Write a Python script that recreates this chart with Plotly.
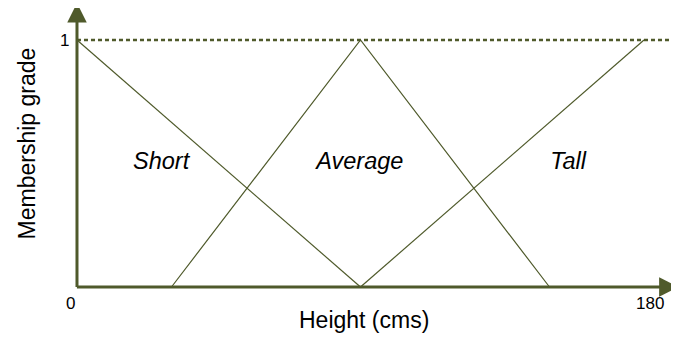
import plotly.graph_objects as go

# membership functions (height in cms -> membership grade)
short_x = [0, 90]
short_y = [1, 0]
avg_x = [30, 90, 150]
avg_y = [0, 1, 0]
tall_x = [90, 180]
tall_y = [0, 1]

set_names = ["Short", "Average", "Tall"]
set_label_x = [26.7, 89.8, 155.9]
set_label_y = [0.5, 0.5, 0.5]

tick_text = ["0", "180", "1"]

olive = "#4F5A2B"
sans = "Liberation Sans, Arial"

fig = go.Figure()

# dashed line at grade 1
fig.add_trace(go.Scatter(
    x=[0, 191.5], y=[1, 1], mode="lines",
    line=dict(color=olive, width=2.5, dash="4px,3px"),
    hoverinfo="skip"
))

for xs, ys in [(short_x, short_y), (avg_x, avg_y), (tall_x, tall_y)]:
    fig.add_trace(go.Scatter(
        x=xs, y=ys, mode="lines",
        line=dict(color=olive, width=1.2),
        hoverinfo="skip"
    ))

fig.add_trace(go.Scatter(
    x=set_label_x, y=set_label_y, mode="text",
    text=[f"<i>{s}</i>" for s in set_names],
    textfont=dict(family=sans, size=23.5, color="black"),
    hoverinfo="skip"
))

# axes with arrows
fig.add_annotation(x=191.0, y=0, ax=-0.5, ay=0, xref="x", yref="y",
                   axref="x", ayref="y", showarrow=True, arrowhead=2,
                   arrowsize=1.3, arrowwidth=3, arrowcolor=olive, text="")
fig.add_annotation(x=0, y=1.15, ax=0, ay=-0.006, xref="x", yref="y",
                   axref="x", ayref="y", showarrow=True, arrowhead=2,
                   arrowsize=1.3, arrowwidth=3, arrowcolor=olive, text="")

tick_font = dict(family=sans, size=17, color="black")
fig.add_annotation(x=-2.2, y=-0.065, text=tick_text[0], showarrow=False, font=tick_font)
fig.add_annotation(x=181.9, y=-0.065, text=tick_text[1], showarrow=False, font=tick_font)
fig.add_annotation(x=-4.1, y=1.0, text=tick_text[2], showarrow=False, font=tick_font)

fig.add_annotation(x=91.1, y=-0.134, text="Height (cms)", showarrow=False,
                   font=dict(family=sans, size=23, color="black"))
fig.add_annotation(x=-15.9, y=0.581, text="Membership grade", showarrow=False,
                   textangle=-90, font=dict(family=sans, size=23, color="black"))

fig.update_layout(
    width=679,
    height=339,
    showlegend=False,
    margin=dict(l=0, r=0, t=0, b=0),
    plot_bgcolor="white",
    paper_bgcolor="white",
    xaxis=dict(visible=False, range=[-21.9, 193.65], fixedrange=True),
    yaxis=dict(visible=False, range=[-0.2429, 1.1296], fixedrange=True),
)

fig.write_html("out.html")
